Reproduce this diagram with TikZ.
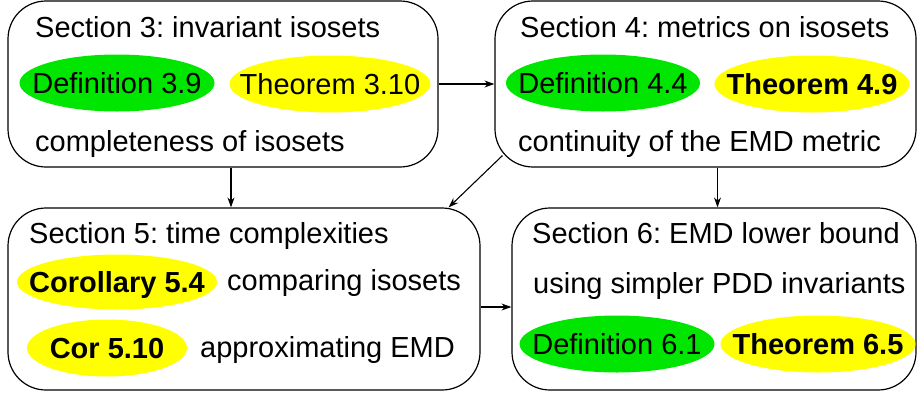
\documentclass[tikz,border=0pt]{standalone}
\usepackage{fontspec}
\setmainfont{Liberation Sans}
\usetikzlibrary{shapes.geometric,arrows.meta}
\definecolor{defgreen}{RGB}{0,230,0}
\definecolor{thmyellow}{RGB}{255,255,0}
\frenchspacing
\begin{document}
\begin{tikzpicture}[x=1pt,y=-1pt,
  font=\fontsize{29}{34}\selectfont,
  secbox/.style={draw,line width=1.2pt,rounded corners=38pt,rectangle,inner sep=0pt},
  oval/.style={ellipse,inner sep=0pt,minimum height=57pt},
  defo/.style={oval,fill=defgreen},
  thmo/.style={oval,fill=thmyellow},
  intext/.style={label={[inner sep=0pt,text height=21pt,text depth=0pt,anchor=center]center:#1}},
  bintext/.style={label={[inner sep=0pt,text height=21pt,text depth=0pt,anchor=center,font=\fontsize{29}{34}\selectfont\bfseries]center:#1}},
  lbl/.style={anchor=base west,inner sep=0pt},
  arr/.style={line width=1.1pt,-{Stealth[length=10pt,width=7pt]}}]
\useasboundingbox (0,0) rectangle (917,394);
% boxes
\node[secbox,minimum width=430pt,minimum height=166pt] (b3) at (223,84) {};
\node[secbox,minimum width=421pt,minimum height=166pt] (b4) at (705.5,84) {};
\node[secbox,minimum width=472pt,minimum height=182pt] (b5) at (244,299) {};
\node[secbox,minimum width=404pt,minimum height=182pt] (b6) at (714,299) {};
% section 3
\node[lbl] (t3a) at (35,37) {Section 3: invariant isosets};
\node[defo,minimum width=195pt,intext={Definition 3.9}] (d39) at (117,83) {};
\node[thmo,minimum width=201pt,intext={Theorem 3.10}] (t310) at (330,84) {};
\node[lbl] (t3b) at (35,151) {completeness of isosets};
% section 4
\node[lbl] (t4a) at (520,37) {Section 4: metrics on isosets};
\node[defo,minimum width=194pt,intext={Definition 4.4}] (d44) at (603,83) {};
\node[thmo,minimum width=195pt,bintext={Theorem 4.9}] (t49) at (812,84) {};
\node[lbl] (t4b) at (518,151) {continuity of the EMD metric};
% section 5
\node[lbl] (t5a) at (29,243) {Section 5: time complexities};
\node[thmo,minimum width=200pt,minimum height=55pt,bintext={Corollary 5.4}] (c54) at (117,282) {};
\node[lbl] (t5b) at (227,290) {comparing isosets};
\node[thmo,minimum width=160pt,bintext={Cor 5.10}] (c510) at (107,348) {};
\node[lbl] (t5c) at (200,357) {approximating EMD};
% section 6
\node[lbl] (t6a) at (532,243) {Section 6: EMD lower bound};
\node[lbl] (t6b) at (533,293) {using simpler PDD invariants};
\node[defo,minimum width=195pt,intext={Definition 6.1}] (d61) at (617,344) {};
\node[thmo,minimum width=195pt,bintext={Theorem 6.5}] (t65) at (818,344) {};
% connectors
\draw[arr] (b3.east) -- (b4.west);
\draw[arr] ([xshift=8pt]b3.south) -- ([xshift=8pt]b3.south |- b5.north);
\draw[arr] ([shift={(8,-12)}]b4.south west) -- ([xshift=-32pt]b5.north east);
\draw[arr] ([xshift=12pt]b4.south) -- ([xshift=12pt]b4.south |- b6.north);
\draw[arr] ([yshift=-8pt]b5.east) -- ([yshift=-8pt]b5.east -| b6.west);
\end{tikzpicture}
\end{document}
